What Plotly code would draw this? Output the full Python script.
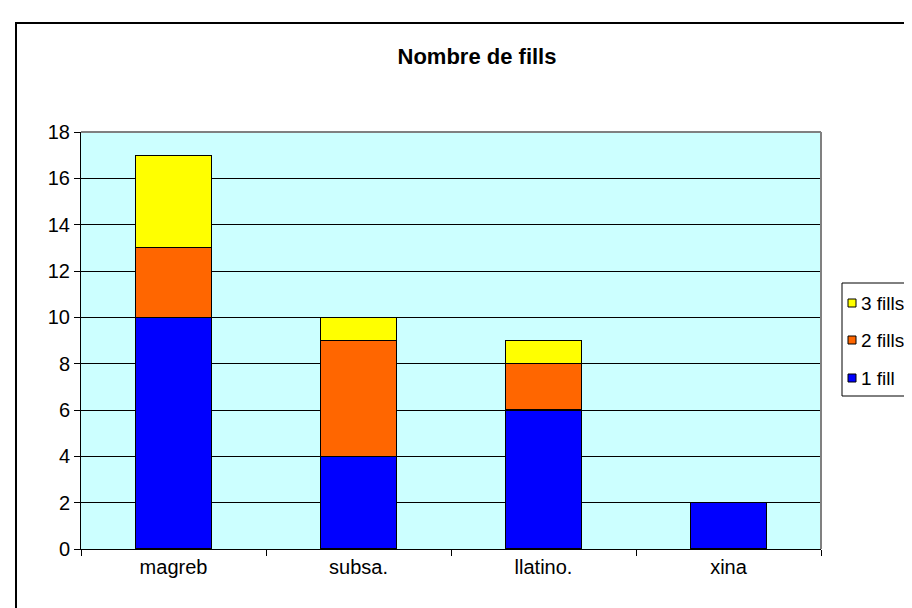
import plotly.graph_objects as go

categories = ["magreb", "subsa.", "llatino.", "xina"]
one_fill = [10, 4, 6, 2]
two_fills = [3, 5, 2, 0]
three_fills = [4, 1, 1, 0]
series_names = ["1 fill", "2 fills", "3 fills"]
colors = ["#0000FF", "#FF6600", "#FFFF00"]
y_ticks = [0, 2, 4, 6, 8, 10, 12, 14, 16, 18]

W, H = 912, 608
L, R, T, B = 73, 813, 124, 541
pw, ph = R - L, B - T


def px(x):
    return (x - L) / pw


def py(y):
    return (B - y) / ph


fig = go.Figure()
series_vals = [one_fill, two_fills, three_fills]
for i, (name, vals) in enumerate(zip(series_names, series_vals)):
    fig.add_trace(go.Bar(
        x=categories, y=vals, name=name, showlegend=False,
        marker=dict(color=colors[i], line=dict(color="black", width=1.2)),
    ))

font = "Liberation Sans, Arial, sans-serif"

shapes = [
    dict(type="line", xref="paper", yref="paper", x0=0, x1=1, y0=1, y1=1,
         line=dict(color="#808080", width=2)),
    dict(type="line", xref="paper", yref="paper", x0=1, x1=1, y0=0, y1=1,
         line=dict(color="#808080", width=2)),
    dict(type="rect", xref="paper", yref="paper",
         x0=px(8), x1=px(960), y0=py(650), y1=py(15),
         line=dict(color="black", width=2), fillcolor="rgba(0,0,0,0)"),
    # legend box
    dict(type="rect", xref="paper", yref="paper",
         x0=px(834), x1=px(960), y0=py(388), y1=py(275),
         line=dict(color="black", width=1), fillcolor="white"),
]
annotations = []
legend_rows = [295, 332, 370]
legend_order = [2, 1, 0]
for row_y, idx in zip(legend_rows, legend_order):
    shapes.append(dict(type="rect", xref="paper", yref="paper",
                       x0=px(840), x1=px(848), y0=py(row_y + 4), y1=py(row_y - 4),
                       line=dict(color="black", width=1), fillcolor=colors[idx]))
    annotations.append(dict(text=series_names[idx], xref="paper", yref="paper",
                            x=px(851), y=py(row_y), xanchor="left", yanchor="middle",
                            showarrow=False, font=dict(size=19, family=font, color="black")))

fig.update_layout(
    width=W, height=H,
    barmode="stack", bargap=0.59,
    plot_bgcolor="#CCFFFF", paper_bgcolor="white",
    margin=dict(l=L, r=W - R, t=T, b=H - B, autoexpand=False),
    font=dict(family=font, size=20, color="black"),
    showlegend=False,
    title=dict(text="<b>Nombre de fills</b>", x=469 / W, xanchor="center",
               y=1 - 48 / H, yanchor="middle", xref="container", yref="container",
               font=dict(size=22, family=font, color="black")),
    xaxis=dict(showline=True, linecolor="black", linewidth=1, ticks="outside",
               tickson="boundaries", ticklen=6, tickcolor="black", showgrid=False,
               tickfont=dict(size=20)),
    yaxis=dict(range=[0, 18], tickvals=y_ticks, showline=True, linecolor="black",
               linewidth=1, ticks="outside", ticklen=6, tickcolor="black",
               showgrid=True, gridcolor="black", gridwidth=1, zeroline=False,
               tickfont=dict(size=20)),
    shapes=shapes,
    annotations=annotations,
)

fig.write_html("out.html")
